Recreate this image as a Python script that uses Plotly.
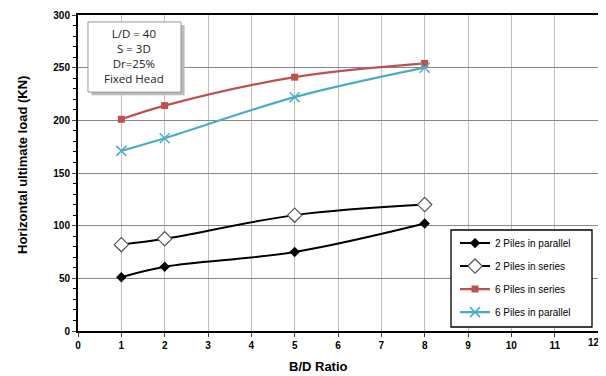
import plotly.graph_objects as go

bd_ratio = [1, 2, 5, 8]
two_parallel = [51, 61, 75, 102]
two_series = [82, 87.5, 110, 120]
six_series = [201, 214, 241, 254]
six_parallel = [171, 183, 222, 250]

x_ticks = list(range(0, 13))
y_ticks = list(range(0, 301, 50))

fig = go.Figure()
fig.add_trace(go.Scatter(x=bd_ratio, y=two_parallel, name="2 Piles in parallel", legendgroup="a",
                         mode="lines+markers", line=dict(color="black", width=2, shape="spline"),
                         marker=dict(symbol="diamond", size=8, color="black")))
fig.add_trace(go.Scatter(x=bd_ratio, y=two_series, name="2 Piles in series", legendgroup="b",
                         mode="lines+markers", line=dict(color="black", width=2, shape="spline"),
                         marker=dict(symbol="diamond", size=11, color="white",
                                     line=dict(color="#555555", width=1.2))))
fig.add_trace(go.Scatter(x=bd_ratio, y=six_series, name="6 Piles in series", legendgroup="c",
                         mode="lines+markers", line=dict(color="#C0504D", width=2.2, shape="spline"),
                         marker=dict(symbol="square", size=7, color="#C0504D")))
fig.add_trace(go.Scatter(x=bd_ratio, y=six_parallel, name="6 Piles in parallel", legendgroup="d",
                         mode="lines+markers", line=dict(color="#4BACC6", width=2.2, shape="spline"),
                         marker=dict(symbol="x-thin", size=10, color="#4BACC6",
                                     line=dict(color="#4BACC6", width=1.5))))

# page body adds an 8px offset, so figure is 598x368 with margins shifted accordingly
fig.update_layout(
    width=598, height=368,
    margin=dict(l=70, r=8, t=7, b=45, autoexpand=False),
    paper_bgcolor="white", plot_bgcolor="white",
    font=dict(family="Liberation Sans, Arial", color="black"),
    showlegend=True,
    legend=dict(x=0.725, y=0.324, xanchor="left", yanchor="top",
                borderwidth=0, bgcolor="rgba(0,0,0,0)",
                font=dict(size=10), tracegroupgap=4, itemwidth=30),
    xaxis=dict(range=[0, 12], tickmode="array", tickvals=x_ticks[:-1],
               ticks="outside", ticklen=4,
               showgrid=True, gridcolor="#BFBFBF", gridwidth=1,
               showline=True, linecolor="black", linewidth=2, mirror=True,
               tickfont=dict(size=10, family="Liberation Sans, Arial", weight="bold"),
               automargin=False, zeroline=False),
    yaxis=dict(range=[0, 300], tickvals=y_ticks, ticks="outside", ticklen=4,
               showgrid=True, gridcolor="#888888", gridwidth=1.2,
               showline=True, linecolor="black", linewidth=2, mirror=True,
               tickfont=dict(size=10, family="Liberation Sans, Arial", weight="bold"),
               minor=dict(dtick=10, ticks="outside", ticklen=3, showgrid=False, tickcolor="black"),
               automargin=False, zeroline=False),
)

# last x tick label (at the right edge of the axis)
fig.add_annotation(xref="x", yref="paper", x=x_ticks[-1], y=-0.014, xshift=-4,
                   text=str(x_ticks[-1]), showarrow=False, xanchor="center", yanchor="top",
                   font=dict(size=10, family="Liberation Sans, Arial", weight="bold"))

# axis titles
fig.add_annotation(xref="paper", yref="paper", x=(318 - 78) / 520, y=(331 - 366) / 316,
                   text="<b>B/D Ratio</b>", showarrow=False, xanchor="center", yanchor="middle",
                   font=dict(size=13, family="Liberation Sans, Arial"))
fig.add_annotation(xref="paper", yref="paper", x=(22 - 78) / 520, y=(331 - 165) / 316,
                   text="<b>Horizontal ultimate load (KN)</b>", showarrow=False, textangle=-90,
                   xanchor="center", yanchor="middle",
                   font=dict(size=13, family="Liberation Sans, Arial"))

# info box with shadow
fig.add_shape(type="rect", xref="paper", yref="paper", x0=0.026, x1=0.205, y0=0.746, y1=0.968,
              fillcolor="#BBBBBB", line=dict(width=0), layer="above")
fig.add_shape(type="rect", xref="paper", yref="paper", x0=0.0192, x1=0.198, y0=0.756, y1=0.978,
              fillcolor="white", line=dict(color="#999999", width=1), layer="above")
fig.add_annotation(xref="paper", yref="paper", x=(134 - 78) / 520, y=(331 - 56) / 316,
                   xanchor="center", yanchor="middle",
                   text="L/D = 40<br>S = 3D<br>Dr=25%<br>Fixed Head",
                   showarrow=False, align="center",
                   font=dict(size=11.5, family="Open Sans, Lato", color="#222222"))

# legend frame
fig.add_shape(type="rect", xref="paper", yref="paper",
              x0=(451 - 78) / 520, x1=(592 - 78) / 520, y0=(331 - 327) / 316, y1=(331 - 230) / 316,
              fillcolor="white", line=dict(color="black", width=1.3), layer="above")

fig.write_html("out.html")
